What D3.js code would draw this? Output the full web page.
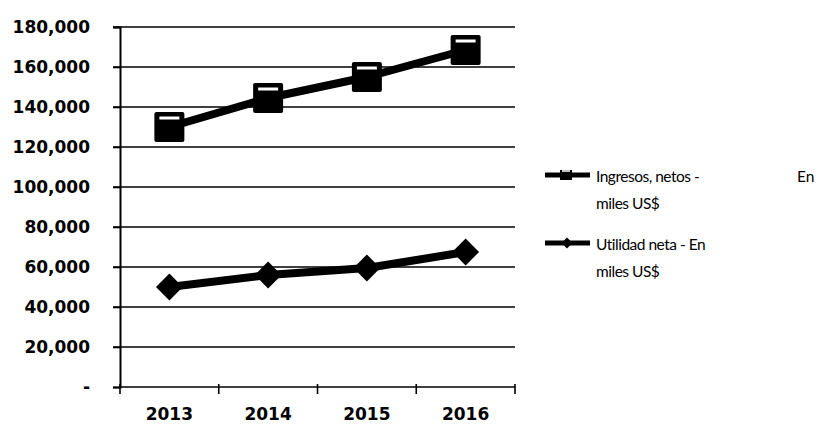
<!DOCTYPE html>
<html>
<head>
<meta charset="utf-8">
<script src="https://cdn.jsdelivr.net/npm/d3@7"></script>
<style>
  html, body { margin: 0; padding: 0; background: #fff; }
  svg { display: block; }
</style>
</head>
<body>
<svg id="chart" width="822" height="426"></svg>
<script>
// Annual figures (thousands of US$)
const years = ["2013", "2014", "2015", "2016"];
const ingresos = [130000, 144500, 155000, 168500];
const utilidad = [50000, 56000, 59500, 67500];
const yTicks = [0, 20000, 40000, 60000, 80000, 100000, 120000, 140000, 160000, 180000];

const svg = d3.select("#chart");
const plotLeft = 120, plotRight = 515, plotTop = 27, plotBottom = 387;

const x = d3.scaleBand().domain(years).range([plotLeft, plotRight]);
const y = d3.scaleLinear().domain([0, 180000]).range([plotBottom, plotTop]);

const fmt = v => v === 0 ? "-" : d3.format(",")(v);

// Horizontal gridlines
svg.append("g").selectAll("line")
  .data(yTicks.filter(v => v > 0))
  .join("line")
  .attr("x1", plotLeft - 7).attr("x2", plotRight)
  .attr("y1", d => y(d)).attr("y2", d => y(d))
  .attr("stroke", "#000").attr("stroke-width", 1.6);

// Y axis with labels
const yAxis = d3.axisLeft(y).tickValues(yTicks).tickFormat(fmt).tickSize(7).tickPadding(23);
const gy = svg.append("g").attr("transform", `translate(${plotLeft},0)`).call(yAxis);
gy.select(".domain").attr("stroke", "#000").attr("stroke-width", 2);
gy.selectAll(".tick line").attr("stroke", "#000").attr("stroke-width", 1.6);
gy.selectAll("text")
  .attr("font-family", "DejaVu Sans, sans-serif")
  .attr("font-weight", "bold")
  .attr("font-size", 17)
  .attr("fill", "#000");

// X axis with boundary ticks
svg.append("line")
  .attr("x1", plotLeft).attr("x2", plotRight)
  .attr("y1", plotBottom).attr("y2", plotBottom)
  .attr("stroke", "#000").attr("stroke-width", 1.6);
const bounds = years.map(d => x(d)).concat([plotRight]);
svg.append("g").selectAll("line")
  .data(bounds)
  .join("line")
  .attr("x1", d => d).attr("x2", d => d)
  .attr("y1", plotBottom - 3).attr("y2", plotBottom + 7)
  .attr("stroke", "#000").attr("stroke-width", 1.6);
svg.append("g").selectAll("text")
  .data(years)
  .join("text")
  .attr("x", d => x(d) + x.bandwidth() / 2)
  .attr("y", 420)
  .attr("text-anchor", "middle")
  .attr("font-family", "DejaVu Sans, sans-serif")
  .attr("font-weight", "bold")
  .attr("font-size", 17)
  .text(d => d);

const cx = d => x(d) + x.bandwidth() / 2;
const line = d3.line().x((d, i) => cx(years[i])).y(d => y(d));

// Series lines
[ingresos, utilidad].forEach(vals => {
  svg.append("path")
    .datum(vals)
    .attr("d", line)
    .attr("fill", "none")
    .attr("stroke", "#000")
    .attr("stroke-width", 8)
    .attr("stroke-linejoin", "round");
});

// Square markers for revenue
svg.append("g").selectAll("rect")
  .data(ingresos)
  .join("rect")
  .attr("x", (d, i) => cx(years[i]) - 15)
  .attr("y", d => y(d) - 15)
  .attr("width", 30).attr("height", 30)
  .attr("rx", 2)
  .attr("fill", "#000");
svg.append("g").selectAll("line")
  .data(ingresos)
  .join("line")
  .attr("x1", (d, i) => cx(years[i]) - 10)
  .attr("x2", (d, i) => cx(years[i]) + 10)
  .attr("y1", d => y(d) - 9).attr("y2", d => y(d) - 9)
  .attr("stroke", "#fff").attr("stroke-width", 3);

// Diamond markers for net income
const diamond = d3.symbol().type(d3.symbolSquare).size(360);
svg.append("g").selectAll("path")
  .data(utilidad)
  .join("path")
  .attr("d", diamond)
  .attr("transform", (d, i) => `translate(${cx(years[i])},${y(d)}) rotate(45)`)
  .attr("fill", "#000");

// Legend
const legend = [
  { lines: ["Ingresos, netos -", "miles US$"], extra: "En", y: 175, mark: "square" },
  { lines: ["Utilidad neta - En", "miles US$"], extra: null, y: 243, mark: "diamond" }
];
const lg = svg.append("g");
legend.forEach(it => {
  const g = lg.append("g").attr("transform", `translate(0,${it.y})`);
  g.append("line").attr("x1", 545).attr("x2", 590).attr("y1", 0).attr("y2", 0)
    .attr("stroke", "#000").attr("stroke-width", 5);
  if (it.mark === "square") {
    g.append("rect").attr("x", 560).attr("y", -5).attr("width", 12).attr("height", 10).attr("fill", "#000");
    g.append("line").attr("x1", 562).attr("x2", 570).attr("y1", -4).attr("y2", -4).attr("stroke", "#fff").attr("stroke-width", 1.5);
  } else {
    g.append("path").attr("d", d3.symbol().type(d3.symbolSquare).size(60))
      .attr("transform", "translate(567,0) rotate(45)").attr("fill", "#000");
  }
  const t = g.append("text")
    .attr("font-family", "Lato, sans-serif")
    .attr("font-size", 15.5)
    .attr("letter-spacing", -0.5)
    .attr("fill", "#000");
  t.append("tspan").attr("x", 596).attr("y", 7).text(it.lines[0]);
  t.append("tspan").attr("x", 596).attr("y", 34).text(it.lines[1]);
  if (it.extra) {
    g.append("text").attr("x", 797).attr("y", 7)
      .attr("font-family", "Lato, sans-serif").attr("font-size", 15.5).text(it.extra);
  }
});
</script>
</body>
</html>
